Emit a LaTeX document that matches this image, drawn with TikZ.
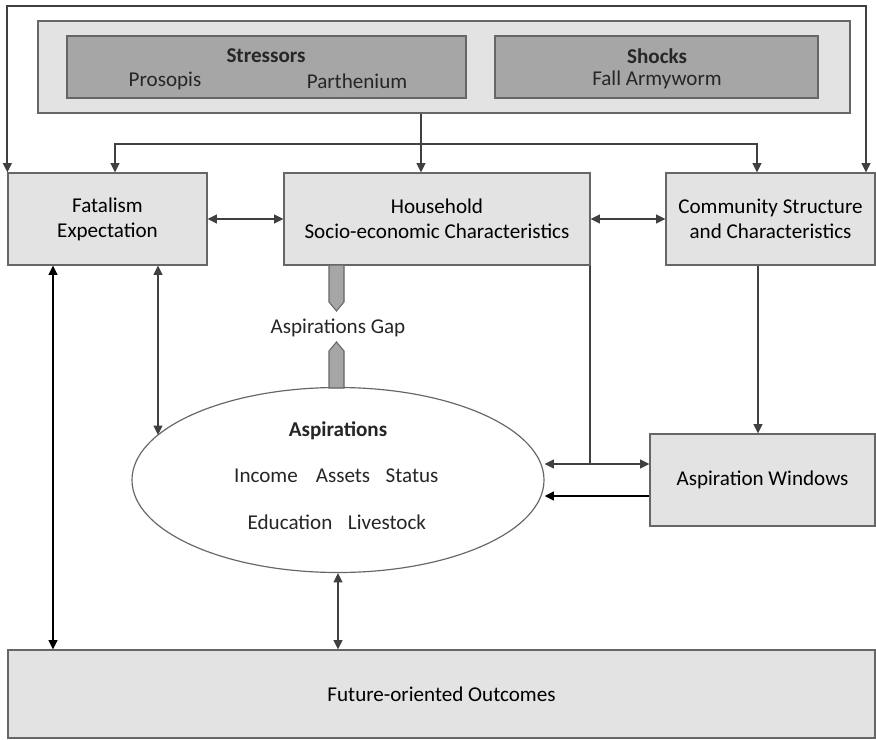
\documentclass[tikz,border=0pt]{standalone}
\usepackage{fontspec}
\setmainfont{Carlito}
\usetikzlibrary{arrows.meta,shapes.geometric,calc}

\definecolor{boxgray}{HTML}{E3E3E3}
\definecolor{stressgray}{HTML}{A6A6A6}
\definecolor{edgegray}{HTML}{666666}
\definecolor{wiregray}{HTML}{404040}

\begin{document}
\begin{tikzpicture}[
  x=0.03cm, y=-0.03cm,
  box/.style={rectangle, draw=edgegray, line width=1pt, fill=boxgray, align=center, inner sep=0pt, font=\fontsize{18}{21.5}\selectfont},
  inbox/.style={box, fill=stressgray},
  lbl/.style={inner sep=0pt, text=black!85, font=\fontsize{18}{21.5}\selectfont},
  wire/.style={-{Triangle[length=8pt,width=7.5pt]}, line width=1.6pt, draw=wiregray},
  dwire/.style={wire, {Triangle[length=8pt,width=7.5pt]}-{Triangle[length=8pt,width=7.5pt]}},
  bwire/.style={wire, draw=black, line width=1.8pt},
  gapblock/.style={fill=stressgray, draw=edgegray, line width=0.9pt}
]
\useasboundingbox (0,0) rectangle (876,740);

% Stressors and shocks
\node[box, minimum width=24.36cm, minimum height=2.76cm] (frame) at (444,67) {};
\node[inbox, minimum width=11.97cm, minimum height=1.86cm] (stress) at (266.5,67) {};
\node[inbox, minimum width=9.69cm, minimum height=1.86cm] (shock) at (656.5,67) {};
\node[lbl] (stresst) at (266,56) {\textbf{Stressors}};
\node[lbl] (prosopis) at (165,81) {Prosopis};
\node[lbl] (parth) at (357,81) {Parthenium};
\node[lbl] (shockt) at (657,56) {\textbf{Shocks}};
\node[lbl] (armyworm) at (657,80) {Fall Armyworm};

% Middle row
\node[box, minimum width=5.97cm, minimum height=2.76cm] (fatal) at (107.5,219) {Fatalism\\Expectation};
\node[box, minimum width=9.18cm, minimum height=2.76cm] (hh) at (437,219) {Household\\Socio-economic Characteristics};
\node[box, minimum width=6.27cm, minimum height=2.76cm] (comm) at (770.5,219) {Community Structure\\and Characteristics};

% Aspirations
\node[ellipse, draw=edgegray, line width=1pt, fill=white, minimum width=12.36cm, minimum height=5.55cm] (asp) at (338,480) {};
\node[lbl] (aspt) at (338,431) {\textbf{Aspirations}};
\node[lbl] (income) at (266,476) {Income};
\node[lbl] (assets) at (343,476) {Assets};
\node[lbl] (status) at (412,476) {Status};
\node[lbl] (educ) at (290,522) {Education};
\node[lbl] (livestock) at (387,522) {Livestock};

\node[box, minimum width=6.75cm, minimum height=2.76cm] (win) at (762.5,480) {Aspiration Windows};
\node[box, minimum width=26.01cm, minimum height=2.64cm] (future) at (441.5,694) {Future-oriented Outcomes};

% Aspirations gap
\node[lbl] (gap) at (338,328) {Aspirations Gap};
\draw[gapblock] (329,265) -- (329,302) -- (336.5,311) -- (344,302) -- (344,265) -- cycle;
\draw[gapblock] (329,388) -- (329,351) -- (336.5,342) -- (344,351) -- (344,388) -- cycle;

% Helper points
\coordinate (loop) at (437,6);
\coordinate (loopR) at (866,6);
\coordinate (split) at (421,144);
\coordinate (splitL) at (115,144);
\coordinate (splitR) at (757,144);
\coordinate (fe) at (158,435);
\coordinate (fx) at (53,0);
\coordinate (hj) at (590,464);
\coordinate (wy) at (0,496);
\coordinate (cx) at (758,0);

% Wires
\draw[wire] (loop) -| (fatal.north west);
\draw[wire] (loop) -| (loopR |- comm.north);
\draw[wire] (frame.south -| split) -- (split |- hh.north);
\draw[wire] (split) -| (splitL |- fatal.north);
\draw[wire] (split) -| (splitR |- comm.north);
\draw[dwire] (fatal.east) -- (hh.west);
\draw[dwire] (hh.east) -- (comm.west);
\draw[dwire] (fatal.south -| fe) -- (fe);
\draw[bwire, {Triangle[length=8pt,width=7.5pt]}-{Triangle[length=8pt,width=7.5pt]}] (fatal.south -| fx) -- (future.north -| fx);
\draw[line width=1.6pt, draw=wiregray] (hh.south -| hj) -- (hj);
\draw[dwire] (asp.east |- hj) -- (win.west |- hj);
\draw[bwire] (win.west |- wy) -- (asp.east |- wy);
\draw[wire] (comm.south -| cx) -- (win.north -| cx);
\draw[dwire] (asp.south) -- (future.north -| asp.south);

\end{tikzpicture}
\end{document}
